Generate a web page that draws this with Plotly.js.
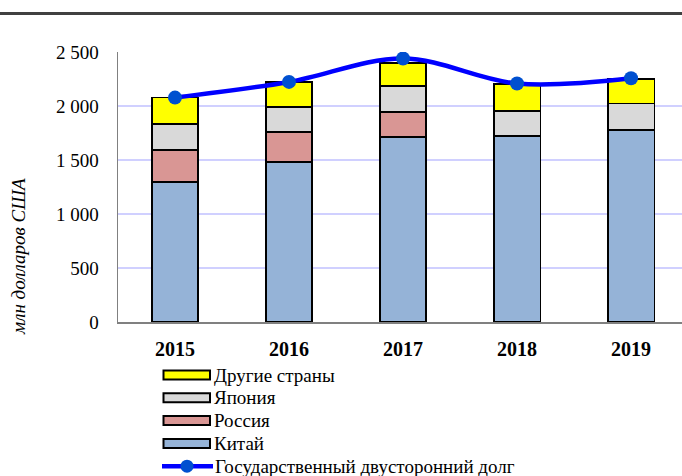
<!DOCTYPE html>
<html>
<head>
<meta charset="utf-8">
<script src="https://cdn.plot.ly/plotly-3.0.1.min.js"></script>
<style>
  html, body { margin: 0; padding: 0; background: #ffffff; }
  #chart { width: 682px; height: 476px; }
</style>
</head>
<body>
<div id="chart"></div>
<script>
// ---- data ----
const years = ['2015', '2016', '2017', '2018', '2019'];
const china = [1296, 1485, 1716, 1725, 1778];
const russia = [300, 277, 230, 0, 0];
const japan = [234, 231, 240, 231, 245];
const other = [248, 230, 214, 246, 228];
const totalDebt = [2078, 2223, 2440, 2208, 2257];

const barNames = ['Китай', 'Россия', 'Япония', 'Другие страны'];
const lineName = 'Государственный двусторонний долг';
const yTitle = 'млн долларов США';

// ---- styles ----
const FONT = '"Liberation Serif", "Times New Roman", "DejaVu Serif", serif';
const barColors = ['#95b3d7', '#d99694', '#d9d9d9', '#ffff00'];
const lineColor = '#0000ff';
const markerColor = '#0050d0';

const barSeries = [china, russia, japan, other];

const traces = barSeries.map((vals, i) => ({
  type: 'bar',
  name: barNames[i],
  x: years,
  y: vals,
  marker: { color: barColors[i], line: { color: '#000000', width: 1.8 } },
  showlegend: false,
  hoverinfo: 'skip'
}));

traces.push({
  type: 'scatter',
  mode: 'lines+markers',
  name: lineName,
  x: years,
  y: totalDebt,
  line: { color: lineColor, width: 4.5, shape: 'spline', smoothing: 1 },
  marker: { color: markerColor, size: 14 },
  showlegend: false,
  hoverinfo: 'skip'
});

// pixel -> paper helpers for the plot area
const L = 118, R = 682, T = 52, B = 322;
const px = p => (p - L) / (R - L);
const py = p => (B - p) / (B - T);

const shapes = [];
const annotations = [];

// top border line
shapes.push({
  type: 'line', xref: 'paper', yref: 'paper',
  x0: px(0), x1: px(682), y0: py(13.5), y1: py(13.5),
  line: { color: '#404040', width: 3 }
});

// custom legend: bar items reversed, then line
const legendOrder = [3, 2, 1, 0];
const rowY0 = 375, rowStep = 22.8;
legendOrder.forEach((si, row) => {
  const cy = rowY0 + row * rowStep;
  shapes.push({
    type: 'rect', xref: 'paper', yref: 'paper',
    x0: px(163.5), x1: px(210), y0: py(cy - 4.5), y1: py(cy + 4.5),
    fillcolor: barColors[si],
    line: { color: '#000000', width: 2 }
  });
  annotations.push({
    xref: 'paper', yref: 'paper', x: px(212), y: py(cy),
    xanchor: 'left', yanchor: 'middle', showarrow: false,
    text: barNames[si],
    font: { family: FONT, size: 19, color: '#000000' }
  });
});
{
  const cy = rowY0 + 4 * rowStep;
  shapes.push({
    type: 'line', xref: 'paper', yref: 'paper',
    x0: px(162), x1: px(213), y0: py(cy), y1: py(cy),
    line: { color: lineColor, width: 4.5 }
  });
  shapes.push({
    type: 'circle', xref: 'paper', yref: 'paper',
    x0: px(187 - 6.5), x1: px(187 + 6.5), y0: py(cy - 6.5), y1: py(cy + 6.5),
    fillcolor: markerColor, line: { width: 0 }
  });
  annotations.push({
    xref: 'paper', yref: 'paper', x: px(213), y: py(cy),
    xanchor: 'left', yanchor: 'middle', showarrow: false,
    text: lineName,
    font: { family: FONT, size: 19, color: '#000000' }
  });
}

// y-axis title
annotations.push({
  xref: 'paper', yref: 'paper', x: px(18), y: py(257),
  xanchor: 'center', yanchor: 'middle', showarrow: false,
  textangle: -90,
  text: '<i>' + yTitle + '</i>',
  font: { family: FONT, size: 19, color: '#000000' }
});

const layout = {
  width: 682,
  height: 476,
  margin: { l: L, r: 682 - R, t: T, b: 476 - B },
  paper_bgcolor: '#ffffff',
  plot_bgcolor: '#ffffff',
  barmode: 'stack',
  bargap: 0.59,
  separators: ', ',
  showlegend: false,
  font: { family: FONT, color: '#000000' },
  xaxis: {
    type: 'category',
    range: [-0.5, 4.447],
    showline: true, linecolor: '#808080', linewidth: 1.5,
    ticks: '', showgrid: false, zeroline: false,
    tickfont: { family: FONT, size: 20, color: '#000000', weight: 'bold' },
    ticklabelstandoff: 8,
    fixedrange: true
  },
  yaxis: {
    range: [0, 2500],
    dtick: 500,
    tickformat: ',d',
    showline: true, linecolor: '#808080', linewidth: 1.5,
    ticks: '',
    showgrid: true, gridcolor: '#d0d0ff', gridwidth: 1.5,
    zeroline: false,
    tickfont: { family: FONT, size: 19, color: '#000000' },
    ticklabelstandoff: 14,
    fixedrange: true
  },
  shapes: shapes,
  annotations: annotations
};

Plotly.newPlot('chart', traces, layout, { displayModeBar: false, staticPlot: true });
</script>
</body>
</html>
